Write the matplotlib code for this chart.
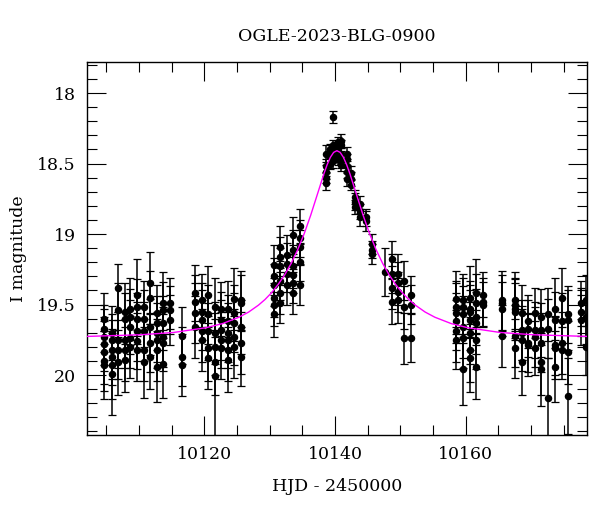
import matplotlib
matplotlib.use("Agg")
import matplotlib.pyplot as plt
from matplotlib.ticker import MultipleLocator, FixedLocator

# ---------------- data ----------------
title = "OGLE-2023-BLG-0900"
xlabel = "HJD - 2450000"
ylabel = "I magnitude"

night_t = [10104.6, 10105.8, 10106.8, 10107.8, 10108.7, 10109.7, 10110.7, 10111.7,
           10112.7, 10113.7, 10114.8, 10116.6, 10118.6, 10119.6, 10120.6, 10121.6,
           10122.6, 10123.6, 10124.6, 10125.6,
           10130.6, 10131.6, 10132.6, 10133.6, 10134.6,
           10138.6, 10139.2, 10139.7, 10140.4, 10140.9, 10141.8, 10142.5, 10143.0,
           10143.8, 10144.7, 10145.7, 10147.6, 10148.7, 10149.6, 10150.6, 10151.7,
           10158.5, 10159.6, 10160.6, 10161.6, 10162.6, 10165.6, 10167.5, 10168.6,
           10169.6, 10170.6, 10171.6, 10172.6, 10173.7, 10174.7, 10175.6, 10177.6,
           10178.4]

night_mag = [
    [19.60, 19.67, 19.73, 19.78, 19.84, 19.90, 19.93],
    [19.70, 19.75, 19.82, 19.87, 19.93, 19.99],
    [19.38, 19.54, 19.75, 19.82, 19.91],
    [19.55, 19.60, 19.75, 19.82, 19.89],
    [19.53, 19.59, 19.66, 19.74, 19.80],
    [19.43, 19.52, 19.60, 19.69, 19.76, 19.82],
    [19.52, 19.60, 19.69, 19.82, 19.91],
    [19.35, 19.45, 19.66, 19.77, 19.87],
    [19.56, 19.63, 19.70, 19.75, 19.82, 19.94],
    [19.49, 19.54, 19.63, 19.73, 19.77, 19.92],
    [19.49, 19.54, 19.61],
    [19.72, 19.87, 19.93],
    [19.42, 19.48, 19.56, 19.66],
    [19.47, 19.55, 19.61, 19.69, 19.75],
    [19.43, 19.57, 19.69, 19.81, 19.88],
    [19.52, 19.70, 19.80, 19.91, 20.01],
    [19.53, 19.61, 19.68, 19.75, 19.81],
    [19.53, 19.62, 19.70, 19.75, 19.82, 19.89],
    [19.46, 19.56, 19.63, 19.73, 19.80],
    [19.47, 19.49, 19.66, 19.77, 19.87],
    [19.22, 19.30, 19.36, 19.45, 19.50, 19.57],
    [19.09, 19.16, 19.23, 19.33, 19.42, 19.49],
    [19.15, 19.21, 19.28, 19.36],
    [19.01, 19.11, 19.23, 19.29, 19.35, 19.42],
    [18.94, 19.03, 19.09, 19.20, 19.36],
    [18.43, 18.52, 18.56, 18.60, 18.64],
    [18.40, 18.45, 18.50],
    [18.17, 18.37, 18.41, 18.45, 18.48],
    [18.35, 18.38, 18.42, 18.47],
    [18.34, 18.37, 18.43, 18.48, 18.51],
    [18.43, 18.47, 18.52, 18.56, 18.61],
    [18.57, 18.61, 18.65],
    [18.74, 18.77, 18.81],
    [18.79, 18.84, 18.88],
    [18.88, 18.91],
    [19.07, 19.11, 19.14],
    [19.27],
    [19.18, 19.28, 19.38, 19.48],
    [19.28, 19.35, 19.41, 19.47],
    [19.33, 19.52, 19.74],
    [19.43, 19.50, 19.74],
    [19.46, 19.52, 19.56, 19.62, 19.69, 19.75],
    [19.47, 19.52, 19.57, 19.66, 19.74, 19.96],
    [19.45, 19.53, 19.55, 19.61, 19.70, 19.82, 19.88],
    [19.42, 19.49, 19.59, 19.63, 19.75, 19.94],
    [19.43, 19.48, 19.50],
    [19.47, 19.49, 19.53, 19.72],
    [19.47, 19.50, 19.53, 19.55, 19.72, 19.81],
    [19.56, 19.68, 19.70, 19.75, 19.91],
    [19.62, 19.67, 19.77, 19.79],
    [19.56, 19.68, 19.73, 19.81],
    [19.59, 19.68, 19.77, 19.91, 19.96],
    [19.57, 19.67, 20.16],
    [19.53, 19.61, 19.79, 19.81, 19.94],
    [19.45, 19.62, 19.77, 19.82],
    [19.57, 19.61, 19.84, 20.15],
    [19.49, 19.55, 19.61],
    [19.47, 19.59, 19.80],
]

night_err = [
    [0.18, 0.17, 0.20, 0.19, 0.22, 0.21, 0.24],
    [0.19, 0.18, 0.21, 0.20, 0.24, 0.29],
    [0.17, 0.19, 0.20, 0.21, 0.23],
    [0.20, 0.18, 0.20, 0.22, 0.23],
    [0.22, 0.20, 0.19, 0.21, 0.22],
    [0.25, 0.20, 0.18, 0.21, 0.20, 0.22],
    [0.19, 0.20, 0.21, 0.22, 0.25],
    [0.22, 0.19, 0.20, 0.21, 0.23],
    [0.20, 0.19, 0.21, 0.20, 0.22, 0.25],
    [0.22, 0.20, 0.19, 0.21, 0.20, 0.24],
    [0.18, 0.17, 0.18],
    [0.20, 0.21, 0.22],
    [0.20, 0.19, 0.21, 0.22],
    [0.19, 0.20, 0.21, 0.22, 0.22],
    [0.20, 0.21, 0.20, 0.23, 0.22],
    [0.21, 0.22, 0.20, 0.23, 0.45],
    [0.19, 0.20, 0.21, 0.20, 0.22],
    [0.20, 0.19, 0.21, 0.20, 0.22, 0.23],
    [0.22, 0.20, 0.21, 0.20, 0.22],
    [0.21, 0.20, 0.19, 0.22, 0.21],
    [0.14, 0.13, 0.15, 0.14, 0.15, 0.16],
    [0.15, 0.14, 0.13, 0.14, 0.15, 0.14],
    [0.14, 0.15, 0.13, 0.14],
    [0.13, 0.14, 0.15, 0.13, 0.14, 0.15],
    [0.12, 0.13, 0.12, 0.13, 0.14],
    [0.06, 0.05, 0.05, 0.04, 0.05],
    [0.04, 0.05, 0.04],
    [0.04, 0.04, 0.05, 0.04, 0.05],
    [0.04, 0.04, 0.05, 0.04],
    [0.05, 0.04, 0.04, 0.05, 0.04],
    [0.05, 0.04, 0.05, 0.04, 0.05],
    [0.05, 0.05, 0.04],
    [0.05, 0.06, 0.05],
    [0.06, 0.05, 0.06],
    [0.06, 0.07],
    [0.07, 0.06, 0.07],
    [0.17],
    [0.13, 0.14, 0.15, 0.16],
    [0.14, 0.15, 0.14, 0.16],
    [0.14, 0.15, 0.18],
    [0.13, 0.14, 0.17],
    [0.20, 0.19, 0.21, 0.20, 0.22, 0.21],
    [0.19, 0.21, 0.20, 0.22, 0.21, 0.25],
    [0.22, 0.20, 0.19, 0.21, 0.22, 0.23, 0.24],
    [0.24, 0.21, 0.20, 0.22, 0.21, 0.23],
    [0.16, 0.17, 0.16],
    [0.21, 0.20, 0.19, 0.22],
    [0.20, 0.19, 0.21, 0.20, 0.22, 0.21],
    [0.20, 0.21, 0.19, 0.22, 0.23],
    [0.19, 0.20, 0.21, 0.22],
    [0.18, 0.20, 0.21, 0.19],
    [0.20, 0.19, 0.21, 0.23, 0.26],
    [0.19, 0.21, 0.28],
    [0.22, 0.20, 0.21, 0.22, 0.25],
    [0.21, 0.20, 0.22, 0.21],
    [0.20, 0.21, 0.22, 0.27],
    [0.16, 0.17, 0.18],
    [0.18, 0.19, 0.20],
]

# model light curve (magenta line)
model_t = [10102.0, 10110.3, 10115.3, 10120.3, 10122.8, 10125.3, 10126.8, 10128.3,
           10129.3, 10130.3, 10131.3, 10132.3, 10133.3, 10134.3, 10135.3, 10136.3,
           10137.3, 10138.3, 10138.8, 10139.3, 10139.8, 10140.3, 10140.8, 10141.3,
           10141.8, 10142.3, 10143.3, 10144.3, 10145.3, 10146.3, 10147.3, 10148.3,
           10149.3, 10150.3, 10151.3, 10152.3, 10153.8, 10155.3, 10157.8, 10160.3,
           10165.3, 10170.3, 10178.6]
model_mag = [19.726, 19.714, 19.698, 19.664, 19.635, 19.590, 19.553, 19.504,
             19.464, 19.416, 19.358, 19.290, 19.208, 19.111, 18.997, 18.865,
             18.720, 18.574, 18.509, 18.456, 18.421, 18.409, 18.421, 18.456,
             18.509, 18.574, 18.720, 18.865, 18.997, 19.111, 19.208, 19.290,
             19.358, 19.416, 19.464, 19.504, 19.553, 19.590, 19.635, 19.664,
             19.698, 19.714, 19.726]

x_ticks = [10120, 10140, 10160]
y_ticks = [18, 18.5, 19, 19.5, 20]
y_ticklabels = ["18", "18.5", "19", "19.5", "20"]

# ---------------- plot ----------------
plt.rcParams['font.family'] = ['DejaVu Serif']
fig = plt.figure(figsize=(6.0, 5.12), dpi=100)
ax = fig.add_axes([0.145, 0.1504, 0.833, 0.7285])

t_all, m_all, e_all = [], [], []
for t, ms, es in zip(night_t, night_mag, night_err):
    for m, e in zip(ms, es):
        t_all.append(t)
        m_all.append(m)
        e_all.append(e)

ax.errorbar(t_all, m_all, yerr=e_all, fmt='o', color='black', ms=4.4,
            elinewidth=1.1, capsize=2.6, capthick=0.9, ecolor='black', zorder=2)
ax.plot(model_t, model_mag, color='#ff00ff', lw=1.0, zorder=3)

ax.set_xlim(10102.05, 10178.55)
ax.set_ylim(20.425, 17.78)

ax.xaxis.set_major_locator(FixedLocator(x_ticks))
ax.xaxis.set_minor_locator(MultipleLocator(5))
ax.yaxis.set_major_locator(FixedLocator(y_ticks))
ax.set_yticklabels(y_ticklabels)
ax.yaxis.set_minor_locator(MultipleLocator(0.1))

ax.tick_params(which='both', direction='in', top=True, right=True,
               labelsize=12.5, width=0.8, pad=8)
ax.tick_params(which='major', length=13.5)
ax.tick_params(which='minor', length=7)
for s in ax.spines.values():
    s.set_linewidth(1.0)

ax.set_title(title, fontsize=12.5, pad=15)
ax.set_xlabel(xlabel, fontsize=12.5, labelpad=11)
ax.set_ylabel(ylabel, fontsize=12.5, labelpad=7)

fig.savefig("out.png", dpi=100)
